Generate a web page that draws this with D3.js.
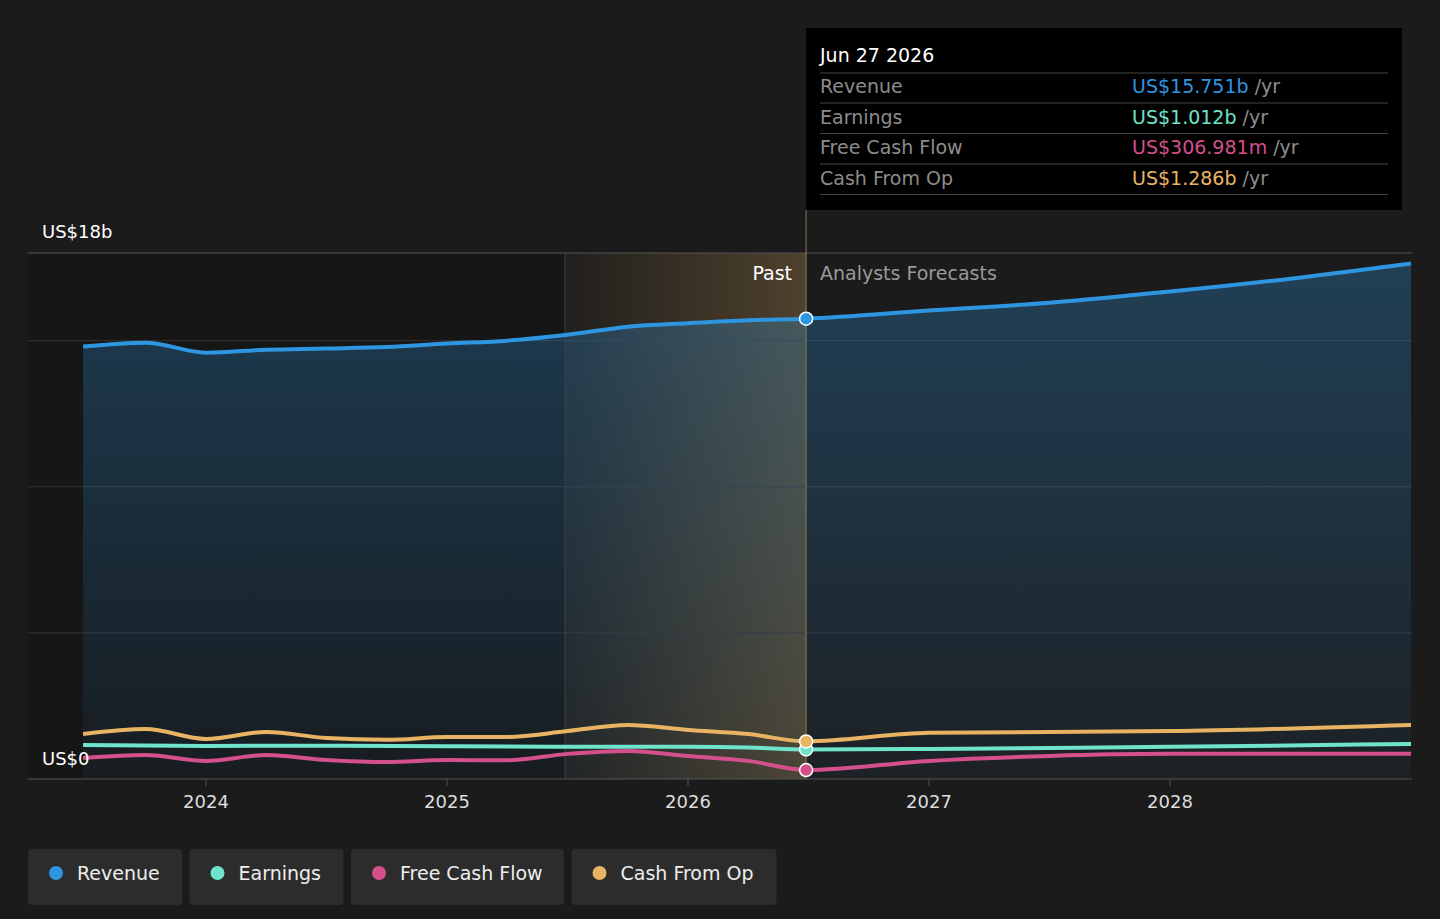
<!DOCTYPE html><html><head><meta charset="utf-8">
<script src="https://cdn.jsdelivr.net/npm/d3@7"></script>
<style>body{margin:0;background:#1b1b1b;font-family:"DejaVu Sans",sans-serif}</style></head><body>
<svg id="c" width="1440" height="919"></svg>
<script>
const revenue=[[2023.49,14.8],[2023.75,14.93],[2024,14.59],[2024.25,14.69],[2024.5,14.73],[2024.75,14.78],[2025,14.9],[2025.25,15.0],[2025.5,15.2],[2025.75,15.48],[2026,15.6],[2026.25,15.7],[2026.49,15.751],[2027,16.03],[2027.5,16.3],[2028,16.68],[2028.5,17.12],[2029,17.64]];
const earnings=[[2023.49,1.16],[2024,1.13],[2024.5,1.14],[2025,1.12],[2025.5,1.1],[2026,1.1],[2026.25,1.08],[2026.49,1.012],[2027,1.03],[2027.5,1.06],[2028,1.1],[2029,1.2]];
const fcf=[[2023.49,0.72],[2023.75,0.82],[2024,0.62],[2024.25,0.82],[2024.5,0.65],[2024.75,0.58],[2025,0.65],[2025.25,0.64],[2025.5,0.86],[2025.75,0.96],[2026,0.79],[2026.25,0.62],[2026.49,0.307],[2027,0.62],[2027.5,0.79],[2028,0.86],[2029,0.86]];
const cfo=[[2023.49,1.54],[2023.75,1.71],[2024,1.37],[2024.25,1.61],[2024.5,1.4],[2024.75,1.34],[2025,1.44],[2025.25,1.44],[2025.5,1.64],[2025.75,1.85],[2026,1.68],[2026.25,1.54],[2026.49,1.286],[2027,1.58],[2028,1.64],[2029,1.85]];
const years=[2024,2025,2026,2027,2028];
const series=[{n:"Revenue",d:revenue,c:"#2e96e0",v:"US$15.751b"},{n:"Earnings",d:earnings,c:"#6fe3cc",v:"US$1.012b"},{n:"Free Cash Flow",d:fcf,c:"#d4508c",v:"US$306.981m"},{n:"Cash From Op",d:cfo,c:"#e8b464",v:"US$1.286b"}];
const nowX=2026.49, shadeX=2025.49;
const svg=d3.select("#c");
const x=d3.scaleLinear().domain([2023,2029]).range([206-241,206+241*5]);
const y=d3.scaleLinear().domain([0,18]).range([779,253]);
const defs=svg.append("defs");
const g1=defs.append("linearGradient").attr("id","hl");
g1.append("stop").attr("offset","0").attr("stop-color","#e8b464").attr("stop-opacity",0.03);
g1.append("stop").attr("offset","1").attr("stop-color","#e8b464").attr("stop-opacity",0.25);
const g2=defs.append("linearGradient").attr("id","ra").attr("x1",0).attr("x2",0).attr("y1",0).attr("y2",1);
g2.append("stop").attr("offset","0").attr("stop-color","#2e96e0").attr("stop-opacity",0.3);
g2.append("stop").attr("offset","1").attr("stop-color","#2e96e0").attr("stop-opacity",0.05);
svg.append("rect").attr("x",28).attr("y",253).attr("width",x(shadeX)-28).attr("height",526).attr("fill","#161616");
svg.append("rect").attr("x",x(shadeX)).attr("y",253).attr("width",x(nowX)-x(shadeX)).attr("height",526).attr("fill","url(#hl)");
[0,5,10,15,18].forEach(v=>svg.append("line").attr("x1",28).attr("x2",1412).attr("y1",y(v)).attr("y2",y(v)).attr("stroke",v==0||v==18?"#555":"#333"));
const cur=d3.curveMonotoneX;
svg.append("path").datum(revenue).attr("d",d3.area().x(d=>x(d[0])).y0(y(0)).y1(d=>y(d[1])).curve(cur)).attr("fill","url(#ra)");
svg.append("line").attr("x1",x(shadeX)).attr("x2",x(shadeX)).attr("y1",253).attr("y2",779).attr("stroke","#444");
svg.append("line").attr("x1",x(nowX)).attr("x2",x(nowX)).attr("y1",210).attr("y2",779).attr("stroke","#8a7a50");
const line=d3.line().x(d=>x(d[0])).y(d=>y(d[1])).curve(cur);
series.slice().reverse().forEach(s=>svg.append("path").datum(s.d).attr("d",line).attr("fill","none").attr("stroke",s.c).attr("stroke-width",4));
series.forEach(s=>{const p=s.d.find(d=>d[0]==nowX);svg.append("circle").attr("cx",x(p[0])).attr("cy",y(p[1])).attr("r",6.5).attr("fill",s.c).attr("stroke","#fff").attr("stroke-width",1.5);});
const T=(t,xx,yy,o)=>svg.append("text").text(t).attr("x",xx).attr("y",yy).attr("fill",o.c||"#fff").attr("font-size",o.s||19).attr("text-anchor",o.a||"start");
T("US$18b",42,238,{s:18});T("US$0",42,765,{s:18});
years.forEach(v=>{svg.append("line").attr("x1",x(v)).attr("x2",x(v)).attr("y1",779).attr("y2",786).attr("stroke","#555");T(v,x(v),808,{a:"middle",c:"#ddd",s:18});});
T("Past",792,280,{a:"end"});T("Analysts Forecasts",820,280,{c:"#999"});
svg.append("rect").attr("x",806).attr("y",28).attr("width",596).attr("height",182).attr("fill","#000");
T("Jun 27 2026",820,62,{});
svg.append("line").attr("x1",820).attr("x2",1388).attr("y1",73).attr("y2",73).attr("stroke","#444");
series.forEach((s,i)=>{const yy=93+i*30.5;T(s.n,820,yy,{c:"#8c8c8c"});
 const t=svg.append("text").attr("x",1132).attr("y",yy).attr("font-size",19);t.append("tspan").text(s.v).attr("fill",s.c);t.append("tspan").text(" /yr").attr("fill","#8c8c8c");
 svg.append("line").attr("x1",820).attr("x2",1388).attr("y1",yy+10).attr("y2",yy+10).attr("stroke","#444");});
let lx=28;const lw=[154,154,213,205];
series.forEach((s,i)=>{svg.append("rect").attr("x",lx).attr("y",849).attr("width",lw[i]).attr("height",56).attr("rx",4).attr("fill","#2c2c2c");
 svg.append("circle").attr("cx",lx+28).attr("cy",873).attr("r",7).attr("fill",s.c);T(s.n,lx+49,880,{c:"#eee"});lx+=lw[i]+7.5;});
</script></body></html>
